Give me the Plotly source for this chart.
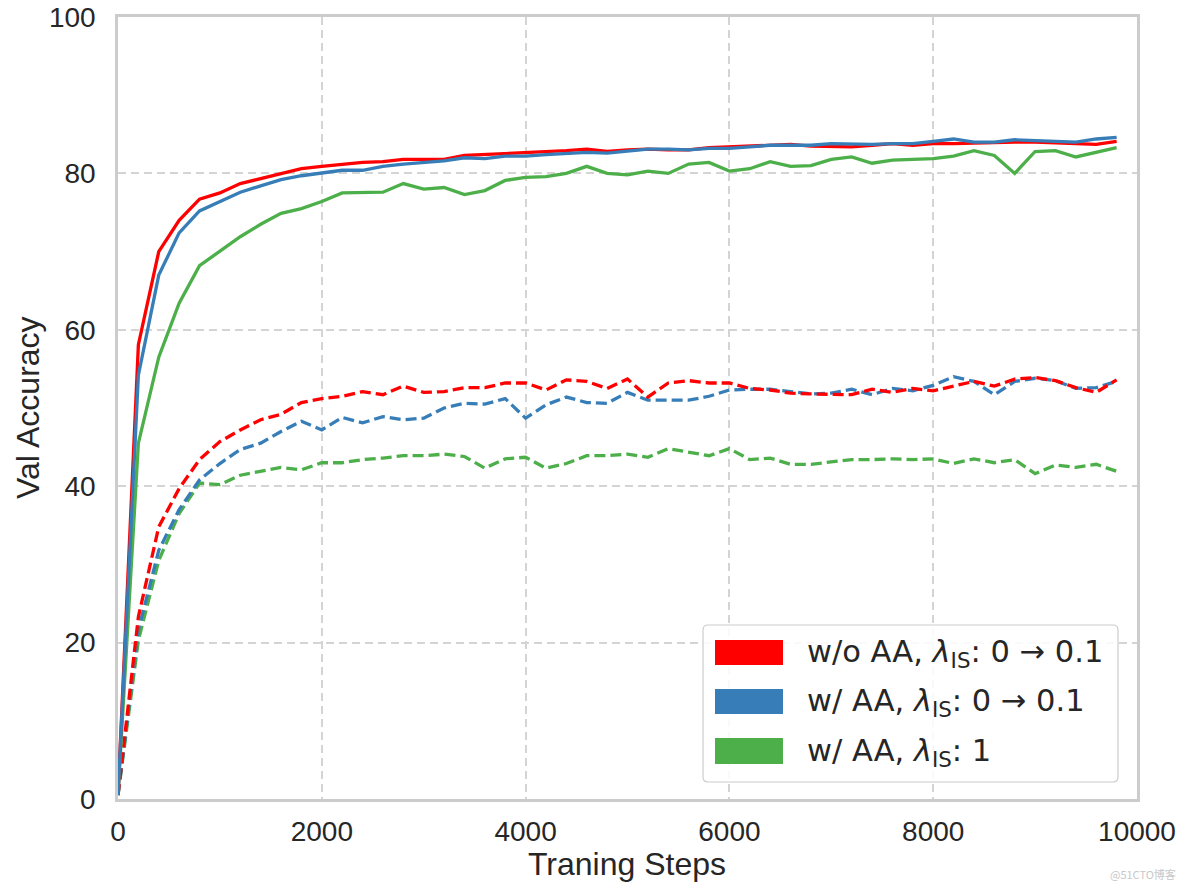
import plotly.graph_objects as go

steps = [0, 200, 400, 600, 800, 1000, 1200, 1400, 1600, 1800,
         2000, 2200, 2400, 2600, 2800, 3000, 3200, 3400, 3600, 3800,
         4000, 4200, 4400, 4600, 4800, 5000, 5200, 5400, 5600, 5800,
         6000, 6200, 6400, 6600, 6800, 7000, 7200, 7400, 7600, 7800,
         8000, 8200, 8400, 8600, 8800, 9000, 9200, 9400, 9600, 9800]

red_solid = [0.5, 58.1, 70.0, 74.0, 76.7, 77.5, 78.7, 79.3, 80.0, 80.6,
             80.9, 81.2, 81.4, 81.5, 81.8, 81.8, 81.8, 82.3, 82.4, 82.6,
             82.6, 82.8, 82.9, 83.1, 82.8, 83.0, 83.1, 83.0, 83.0, 83.3,
             83.4, 83.6, 83.7, 83.7, 83.5, 83.5, 83.4, 83.6, 83.8, 83.6,
             83.8, 83.8, 83.9, 83.9, 84.0, 84.0, 83.9, 83.7, 83.7, 84.1]

blue_solid = [0.5, 54.2, 67.0, 72.4, 75.2, 76.4, 77.6, 78.4, 79.2, 79.7,
              80.0, 80.4, 80.4, 80.9, 81.2, 81.4, 81.6, 82.0, 81.9, 82.2,
              82.2, 82.4, 82.5, 82.7, 82.6, 82.9, 83.1, 83.1, 83.0, 83.2,
              83.2, 83.4, 83.6, 83.6, 83.6, 83.8, 83.7, 83.7, 83.8, 83.8,
              84.1, 84.4, 84.0, 84.0, 84.3, 84.2, 84.2, 84.0, 84.4, 84.6]

green_solid = [0.5, 45.5, 56.5, 63.4, 68.2, 70.0, 71.9, 73.5, 74.9, 75.5,
               76.4, 77.5, 77.5, 77.6, 78.7, 78.0, 78.2, 77.3, 77.8, 79.1,
               79.5, 79.6, 80.0, 80.9, 80.0, 79.8, 80.3, 80.0, 81.2, 81.4,
               80.3, 80.6, 81.5, 80.9, 81.0, 81.8, 82.1, 81.3, 81.7, 81.8,
               81.9, 82.2, 82.9, 82.3, 80.0, 82.8, 82.9, 82.1, 82.7, 83.3]

red_dashed = [0.5, 23.3, 34.8, 39.7, 43.4, 45.7, 47.2, 48.5, 49.2, 50.7,
              51.2, 51.5, 52.1, 51.7, 52.8, 52.0, 52.1, 52.6, 52.6, 53.2,
              53.2, 52.3, 53.6, 53.4, 52.5, 53.7, 51.4, 53.2, 53.5, 53.2,
              53.2, 52.5, 52.3, 51.9, 51.8, 51.8, 51.7, 52.4, 52.0, 52.5,
              52.2, 52.8, 53.4, 52.8, 53.7, 53.9, 53.5, 52.6, 52.0, 53.6]

blue_dashed = [0.5, 21.6, 31.8, 37.0, 40.8, 42.9, 44.7, 45.5, 47.0, 48.3,
               47.2, 48.8, 48.1, 48.9, 48.5, 48.7, 50.0, 50.6, 50.5, 51.2,
               48.7, 50.4, 51.4, 50.7, 50.6, 52.0, 51.0, 51.0, 51.0, 51.5,
               52.3, 52.4, 52.4, 52.1, 51.8, 51.9, 52.4, 51.7, 52.5, 52.2,
               52.9, 54.0, 53.4, 51.7, 53.4, 53.8, 53.5, 52.5, 52.6, 53.4]

green_dashed = [0.5, 20.3, 30.5, 36.5, 40.4, 40.2, 41.4, 41.9, 42.4, 42.1,
                43.0, 43.0, 43.4, 43.6, 43.9, 43.9, 44.1, 43.8, 42.3, 43.5,
                43.7, 42.3, 42.9, 43.9, 43.9, 44.1, 43.7, 44.8, 44.3, 43.9,
                44.8, 43.4, 43.6, 42.8, 42.8, 43.1, 43.4, 43.4, 43.5, 43.4,
                43.5, 42.9, 43.5, 43.0, 43.4, 41.6, 42.7, 42.4, 42.8, 41.9]

x_ticks = [0, 2000, 4000, 6000, 8000, 10000]
x_ticktext = ["0", "2000", "4000", "6000", "8000", "10000"]
y_ticks = [0, 20, 40, 60, 80, 100]
y_ticktext = ["0", "20", "40", "60", "80", "100"]

legend_labels = ["w/o AA, <i>λ</i><sub>IS</sub>: 0 → 0.1",
                 "w/ AA, <i>λ</i><sub>IS</sub>: 0 → 0.1",
                 "w/ AA, <i>λ</i><sub>IS</sub>: 1"]

RED = "#ff0000"
BLUE = "#377eb8"
GREEN = "#4daf4a"
colors = [RED, BLUE, GREEN]

fig = go.Figure()
LW = 3.3
DASH = "11px,5px"
for ys, c in [(green_dashed, GREEN), (blue_dashed, BLUE), (red_dashed, RED)]:
    fig.add_trace(go.Scatter(x=steps, y=ys, mode="lines", showlegend=False,
                             line=dict(color=c, width=LW, dash=DASH)))
for ys, c in [(green_solid, GREEN), (red_solid, RED), (blue_solid, BLUE)]:
    fig.add_trace(go.Scatter(x=steps, y=ys, mode="lines", showlegend=False,
                             line=dict(color=c, width=LW)))

# plot-area geometry in pixels
L, R, T, B = 118, 1137, 17, 799
W, H = R - L, B - T
def px(x):
    return (x - L) / W
def py(y):
    return (B - y) / H

shapes = []
bx0, bx1, by0, by1 = px(703), px(1118), py(782), py(625)
rx = 5 / W
ry = 5 / H
path = (f"M {bx0+rx},{by0} L {bx1-rx},{by0} Q {bx1},{by0} {bx1},{by0+ry} "
        f"L {bx1},{by1-ry} Q {bx1},{by1} {bx1-rx},{by1} L {bx0+rx},{by1} "
        f"Q {bx0},{by1} {bx0},{by1-ry} L {bx0},{by0+ry} Q {bx0},{by0} {bx0+rx},{by0} Z")
shapes.append(dict(type="path", xref="paper", yref="paper", path=path,
                   fillcolor="rgba(255,255,255,0.85)", line=dict(color="#cccccc", width=1.2),
                   layer="above"))
rect_y = [(640, 665), (689, 714), (738, 764)]
text_y = [653, 702, 752]
annotations = []
for (yt, yb), c, lab, ty in zip(rect_y, colors, legend_labels, text_y):
    shapes.append(dict(type="rect", xref="paper", yref="paper",
                       x0=px(715), x1=px(783), y0=py(yb), y1=py(yt),
                       fillcolor=c, line=dict(width=0), layer="above"))
    annotations.append(dict(xref="paper", yref="paper", x=px(805), y=py(ty),
                            xanchor="left", yanchor="middle", showarrow=False,
                            text=lab, font=dict(family="DejaVu Sans", size=30.5, color="#262626")))

# axis titles
annotations.append(dict(xref="paper", yref="paper", x=px(627), y=py(864),
                        xanchor="center", yanchor="middle", showarrow=False,
                        text="Traning Steps",
                        font=dict(family="Liberation Sans", size=32, color="#262626")))
annotations.append(dict(xref="paper", yref="paper", x=px(28), y=py(408),
                        xanchor="center", yanchor="middle", showarrow=False, textangle=-90,
                        text="Val Accuracy",
                        font=dict(family="Liberation Sans", size=32, color="#262626")))

annotations.append(dict(xref="paper", yref="paper", x=px(1178), y=py(874),
                        xanchor="right", yanchor="middle", showarrow=False,
                        text="@51CTO博客",
                        font=dict(family="Noto Sans CJK SC", size=11, color="#c8c8c8")))

axis_common = dict(
    showline=True, linecolor="#cccccc", linewidth=2.5, mirror=True,
    showgrid=True, gridcolor="#d4d4d4", gridwidth=1.8, griddash="8px,5px",
    zeroline=False, ticks="outside", tickcolor="rgba(0,0,0,0)",
    tickfont=dict(family="Liberation Sans", size=28, color="#262626"),
    automargin=False,
)

fig.update_layout(
    width=1184, height=888,
    margin=dict(l=L, r=1184 - R, t=T, b=888 - B),
    paper_bgcolor="white", plot_bgcolor="white",
    shapes=shapes, annotations=annotations,
    xaxis=dict(range=[0, 10000], tickvals=x_ticks, ticktext=x_ticktext,
               ticklen=6, **axis_common),
    yaxis=dict(range=[0, 100], tickvals=y_ticks, ticktext=y_ticktext,
               ticklen=14, **axis_common),
)

fig.write_html("out.html", config={"displayModeBar": False},
               post_script="document.body.style.margin='0px';document.body.style.overflow='hidden';")
